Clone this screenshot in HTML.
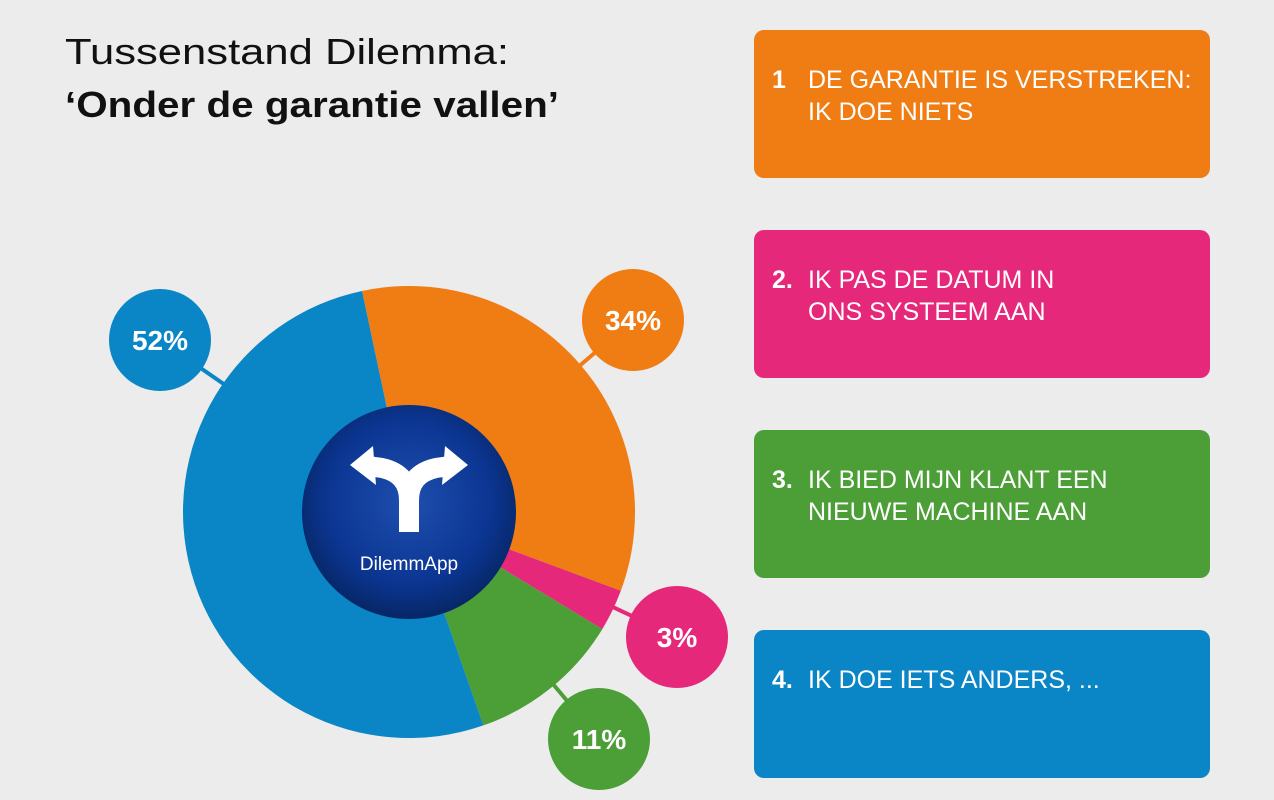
<!DOCTYPE html>
<html><head><meta charset="utf-8">
<style>
html,body{margin:0;padding:0;background:#ececec;width:1274px;height:800px;overflow:hidden}
svg{display:block}
text{font-family:"Liberation Sans",sans-serif}
</style></head>
<body>
<svg id="chart" width="1274" height="800" viewBox="0 0 1274 800">
<defs>
<radialGradient id="hub" cx="50%" cy="45%" r="55%">
<stop offset="0%" stop-color="#1f4fb0"/><stop offset="70%" stop-color="#0b3591"/><stop offset="100%" stop-color="#062766"/>
</radialGradient>
</defs>
<rect width="1274" height="800" fill="#ececec"/>
<text x="65" y="64" font-size="36" fill="#111" textLength="444" lengthAdjust="spacingAndGlyphs">Tussenstand Dilemma:</text>
<text x="65" y="117" font-size="36" font-weight="bold" fill="#111" textLength="494" lengthAdjust="spacingAndGlyphs">‘Onder de garantie vallen’</text>
<g id="pie"></g>
<g id="boxes"></g>
</svg>
<script>
const categories = ["1","2.","3.","4."];
const labelLine1 = ["DE GARANTIE IS VERSTREKEN:","IK PAS DE DATUM IN","IK BIED MIJN KLANT EEN","IK DOE IETS ANDERS, ..."];
const labelLine2 = ["IK DOE NIETS","ONS SYSTEEM AAN","NIEUWE MACHINE AAN",""];
const values = [34, 3, 11, 52];
const valueLabels = ["34%","3%","11%","52%"];
const colors = ["#f07c14","#e6287a","#4c9e36","#0a85c6"];

const NS="http://www.w3.org/2000/svg";
function mk(tag,attrs,parent){const e=document.createElementNS(NS,tag);for(const k in attrs)e.setAttribute(k,attrs[k]);parent.appendChild(e);return e;}
const pie=document.getElementById('pie'), boxes=document.getElementById('boxes');
const cx=409, cy=512, R=226, startDeg=-12;
const total=values.reduce((a,b)=>a+b,0);
function pt(deg,r){const a=deg*Math.PI/180;return [cx+r*Math.sin(a), cy-r*Math.cos(a)];}
// bubble layout positions (fixed layout, not data)
const bubbleX=[633,677,599,160];
const bubbleY=[320,637,739,340];
let acc=startDeg;
values.forEach((v,i)=>{
  const sweep=v/total*360, a0=acc, a1=acc+sweep; acc=a1;
  const p0=pt(a0,R), p1=pt(a1,R);
  const path=mk('path',{d:`M${cx},${cy} L${p0[0]},${p0[1]} A${R},${R} 0 ${sweep>180?1:0} 1 ${p1[0]},${p1[1]} Z`,fill:colors[i]},pie);
  
  
});
values.forEach((v,i)=>{
  const bx=bubbleX[i], by=bubbleY[i];
  const ln=mk('line',{x1:cx,y1:cy,x2:bx,y2:by,stroke:colors[i],'stroke-width':4},pie);
  
  
  // mask interior part of connector by re-drawing slice later isn't needed: draw connector only outside pie
  const dx=bx-cx, dy=by-cy, d=Math.hypot(dx,dy);
  ln.setAttribute('x1',cx+dx/d*(R-2)); ln.setAttribute('y1',cy+dy/d*(R-2));
  const c=mk('circle',{cx:bx,cy:by,r:51,fill:colors[i]},pie);
  
  
  const t=mk('text',{x:bx,y:by+10,'text-anchor':'middle','font-size':28,'font-weight':'bold',fill:'#fff'},pie);
  t.textContent=valueLabels[i];
  
  
});
const hub=mk('circle',{cx:cx,cy:cy,r:107,fill:'url(#hub)'},pie);


const icon=mk('g',{},pie);


mk('path',{d:'M409,532 L409,500 Q409,474 382,468 L368,466',fill:'none',stroke:'#fff','stroke-width':20},icon);
mk('path',{d:'M409,500 Q409,474 436,468 L450,466',fill:'none',stroke:'#fff','stroke-width':20},icon);
mk('polygon',{points:'350,465 373,446 376,485',fill:'#fff'},icon);
mk('polygon',{points:'468,465 445,446 442,485',fill:'#fff'},icon);
const ht=mk('text',{x:cx,y:570,'text-anchor':'middle','font-size':19,fill:'#fff'},pie);
ht.textContent='DilemmApp';


categories.forEach((c,i)=>{
  const y=30+i*200;
  const r=mk('rect',{x:754,y:y,width:456,height:148,rx:10,fill:colors[i]},boxes);
  
  
  const n=mk('text',{x:772,y:y+58,'font-size':25,'font-weight':'bold',fill:'#fff'},boxes);
  n.textContent=c;
  
  
  const t1=mk('text',{x:808,y:y+58,'font-size':25,fill:'#fff'},boxes);
  t1.textContent=labelLine1[i];
  
  
  if(labelLine2[i]){
    const t2=mk('text',{x:808,y:y+90,'font-size':25,fill:'#fff'},boxes);
    t2.textContent=labelLine2[i];
    
    
  }
});
</script>
</body></html>
